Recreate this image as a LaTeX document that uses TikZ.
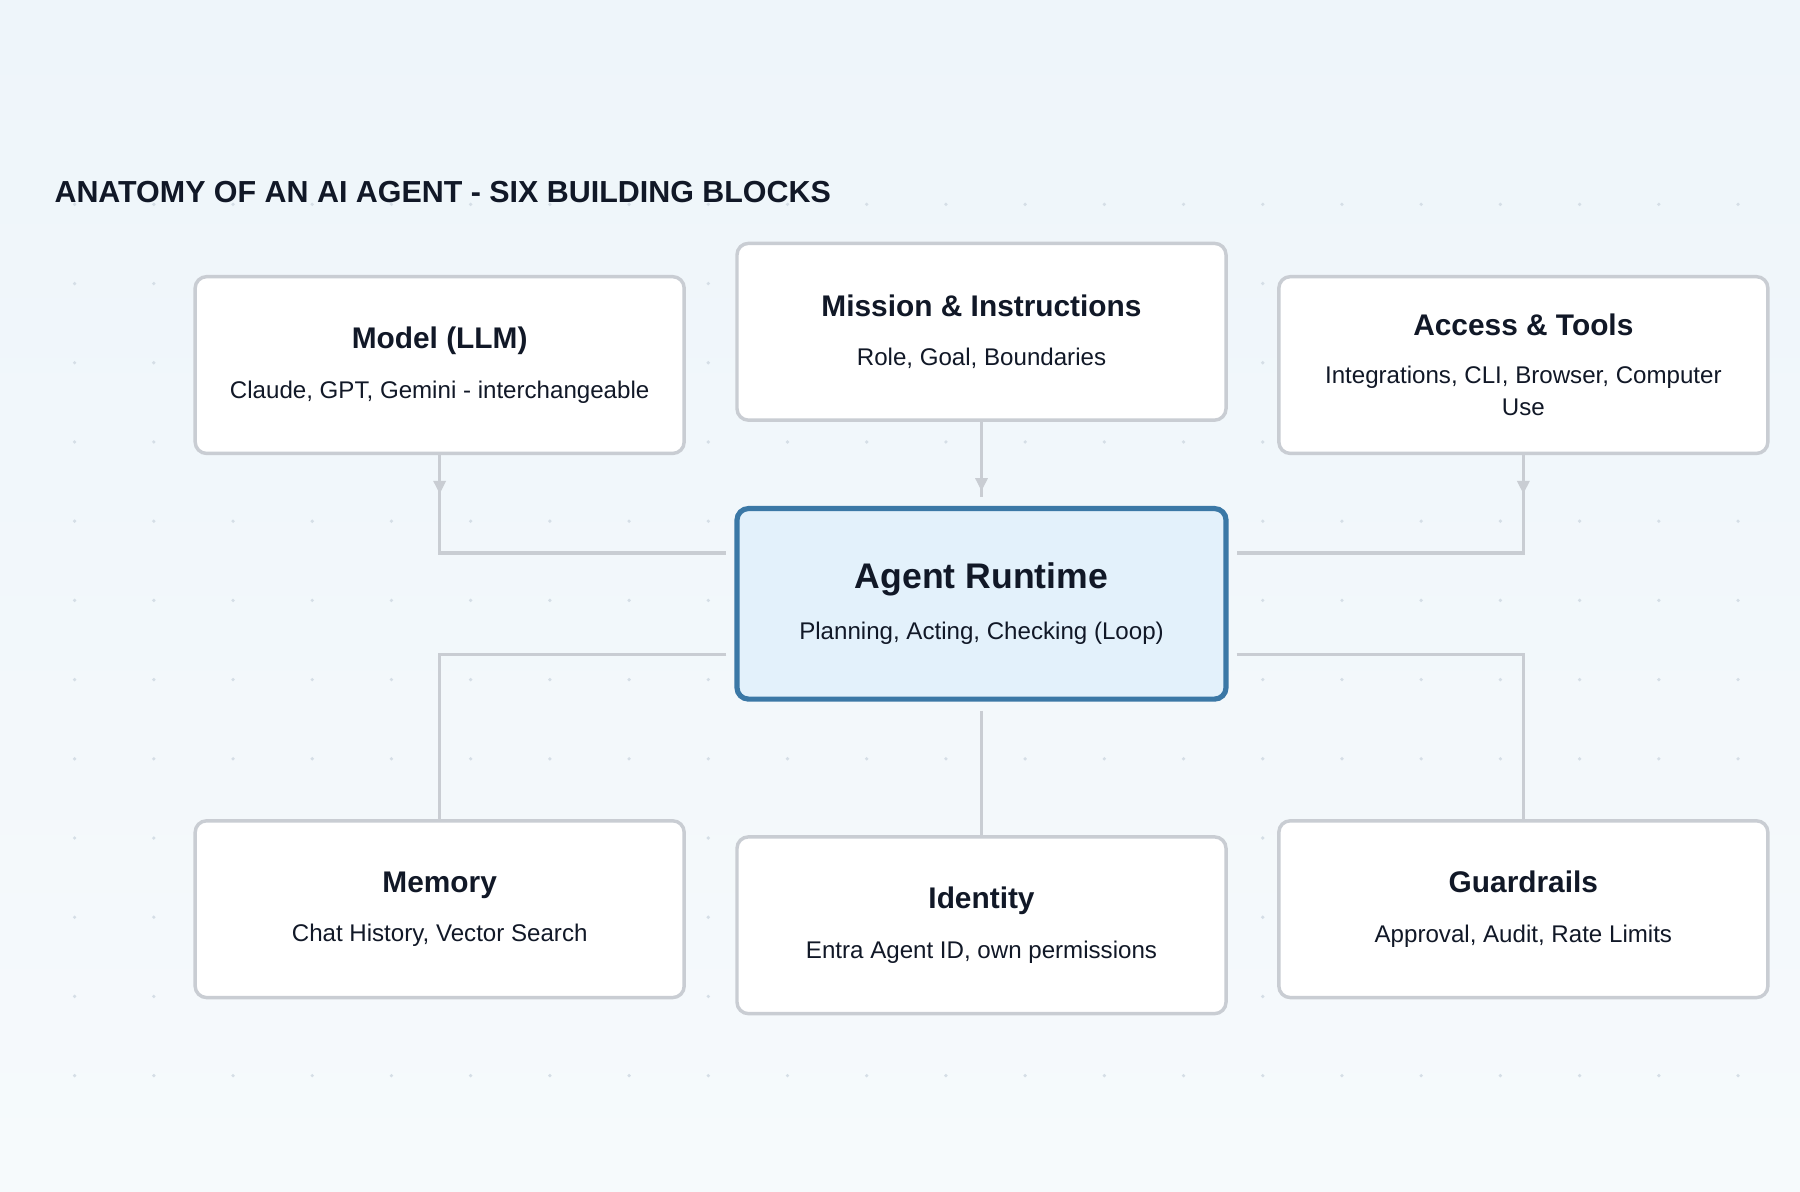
\documentclass[tikz,border=0pt]{standalone}
\usepackage{fontspec}
\setmainfont{Liberation Sans}
\usetikzlibrary{arrows.meta,decorations.markings,calc}
\definecolor{bgA}{HTML}{EEF5FA}
\definecolor{bgB}{HTML}{F6FAFC}
\definecolor{edge}{HTML}{C9CDD3}
\definecolor{rtedge}{HTML}{3B78A6}
\definecolor{rtfill}{HTML}{E3F1FB}
\definecolor{ink}{HTML}{111827}
\definecolor{dot}{HTML}{D5DEE6}
\begin{document}
\begin{tikzpicture}[x=1pt,y=-1pt,
  box/.style={draw=edge,line width=3pt,fill=white,rounded corners=10pt,minimum width=426pt,minimum height=154pt,align=center,text=ink,font=\fontsize{21}{28}\selectfont},
  conn/.style={draw=edge,line width=3pt},
  marr/.style={postaction={decorate},decoration={markings,mark=at position #1 with {\arrow[edge,line width=1pt]{Triangle[length=11pt,width=11pt]}}}}]
\useasboundingbox (0,0) rectangle (1568,1038);
\shade[top color=bgA,bottom color=bgB] (0,0) rectangle (1568,1038);
\foreach \x in {65,134,...,1540} \foreach \y in {178,247,...,940} \fill[dot] (\x,\y) circle (1.6pt);
\node[anchor=west,font=\bfseries\fontsize{26.5}{30}\selectfont,text=ink] (title) at (44,167) {ANATOMY OF AN AI AGENT - SIX BUILDING BLOCKS};
\newcommand{\bx}[2]{{\fontsize{26}{30}\selectfont\bfseries #1}\\[15pt]#2}
\node[box] (m) at (383,318) {\bx{Model (LLM)}{Claude, GPT, Gemini - interchangeable}};
\node[box] (mi) at (855,289) {\bx{Mission \& Instructions}{Role, Goal, Boundaries}};
\node[box] (a) at (1327,318) {{\fontsize{26}{30}\selectfont\bfseries Access \& Tools}\\[14pt]Integrations, CLI, Browser, Computer\\Use};
\node[box,draw=rtedge,line width=4.5pt,fill=rtfill,minimum height=166pt] (rt) at (855,526) {{\fontsize{31}{34}\selectfont\bfseries Agent Runtime}\\[16pt]Planning, Acting, Checking (Loop)};
\node[box] (me) at (383,792) {\bx{Memory}{Chat History, Vector Search}};
\node[box] (id) at (855,806) {\bx{Identity}{Entra Agent ID, own permissions}};
\node[box] (g) at (1327,792) {\bx{Guardrails}{Approval, Audit, Rate Limits}};
\coordinate (rwu) at ($(rt.north west)!0.24!(rt.south west)+(-7,0)$);
\coordinate (reu) at ($(rt.north east)!0.24!(rt.south east)+(7,0)$);
\coordinate (rwd) at ($(rt.north west)!0.76!(rt.south west)+(-7,0)$);
\coordinate (red) at ($(rt.north east)!0.76!(rt.south east)+(7,0)$);
\draw[conn,marr=0.1] (m.south) |- (rwu);
\draw[conn,marr=0.1] (a.south) |- (reu);
\draw[conn,marr=0.92] (mi.south) -- ([yshift=8pt]rt.north);
\draw[conn] (rwd) -| (me.north);
\draw[conn] (red) -| (g.north);
\draw[conn] ([yshift=-8pt]rt.south) -- (id.north);
\end{tikzpicture}
\end{document}
